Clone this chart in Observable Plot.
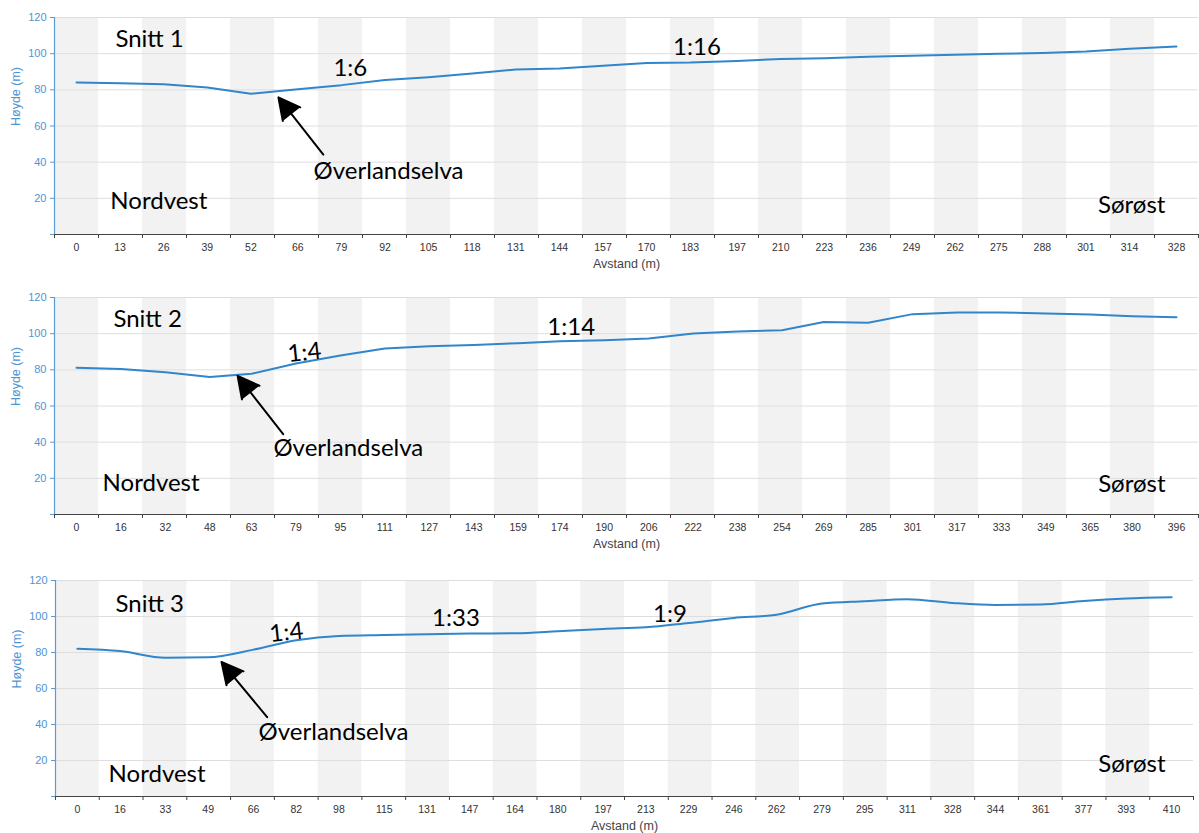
<!DOCTYPE html>
<html><head><meta charset="utf-8">
<script src="https://cdn.jsdelivr.net/npm/d3@7"></script>
<script src="https://cdn.jsdelivr.net/npm/@observablehq/plot@0.6"></script>
<style>
body{margin:0;background:#fff;}
#wrap{width:1199px;}
#wrap svg{display:block;overflow:visible;}
</style>
</head><body><div id="wrap"></div>
<script>
// ---- Snitt 1 ----
const ticks1 = [0,13,26,39,52,66,79,92,105,118,131,144,157,170,183,197,210,223,236,249,262,275,288,301,314,328];
const heights1 = [84.1,83.6,83.1,81.3,77.8,80.3,82.6,85.5,87,89,91.3,91.8,93.3,94.8,95.1,96,97,97.5,98.3,98.8,99.4,99.9,100.4,101.2,102.7,104];
const ann1Text = ["Snitt 1","Nordvest","1:6","1:16","Øverlandselva","Sørøst"];
const ann1X = [11.6,10.1,76.6,177.9,70.7,304.6];
const ann1Y = [108.1,18.3,91.8,103.7,35.1,16.0];
const ann1Rot = [0,0,0,0,0,0];
const arrow1 = [73.6,44.2,60.2,75.8];

// ---- Snitt 2 ----
const ticks2 = [0,16,32,48,63,79,95,111,127,143,159,174,190,206,222,238,254,269,285,301,317,333,349,365,380,396];
const heights2 = [81.1,80.4,78.7,76.1,77.8,83.5,87.9,91.8,93.1,93.8,94.7,95.8,96.4,97.3,100.1,101.2,101.9,106.4,106,110.8,111.7,111.7,111.2,110.6,109.7,109.1];
const ann2Text = ["Snitt 2","Nordvest","1:4","1:14","Øverlandselva","Sørøst"];
const ann2X = [13.3,9.4,76.0,169.5,70.9,367.8];
const ann2Y = [107.7,17.1,88.5,103.6,36.7,16.8];
const ann2Rot = [0,0,-6,0,0,0];
const arrow2 = [74.4,44.4,58.0,76.7];

// ---- Snitt 3 ----
const ticks3 = [0,16,33,49,66,82,98,115,131,147,164,180,197,213,229,246,262,279,295,311,328,344,361,377,393,410];
const heights3 = [82.1,80.8,77.1,77.3,81.6,86.8,89.2,89.7,90.1,90.5,90.7,91.8,93.1,94,96.4,99.2,101,107.2,108.5,109.6,107.5,106.4,106.6,108.6,110,110.7];
const ann3Text = ["Snitt 3","Nordvest","1:4","1:33","1:9","Øverlandselva","Sørøst"];
const ann3X = [14.3,11.7,72.0,132.9,215.7,67.9,382.5];
const ann3Y = [106.8,12.2,90.1,99,101.2,35.6,17.8];
const ann3Rot = [0,0,-6,0,0,0,0];
const arrow3 = [71.1,44.1,54.0,74.7];

const yTicks = [0,20,40,60,80,100,120];
const gridTicks = [20,40,60,80,100,120];
const yLabel = "Høyde (m)";
const xLabel = "Avstand (m)";

const BLUE_AXIS = "#5b9bd5";
const BLUE_TEXT = "#4f93d3";
const LINE = "#2f86cc";

function panel(cfg) {
  const {ticks, heights, annText, annX, annY, annRot, arrow, height, mt, mb, ml, mr, curve} = cfg;
  const n = ticks.length;
  const step = ticks[n - 1] / (n - 1);
  const bounds = ticks.map((t, i) => i * step - step / 2).concat([(n - 1) * step + step / 2]);
  const bands = d3.range(0, n, 2).map(i => [bounds[i], bounds[i + 1]]);
  return Plot.plot({
    width: 1199,
    height,
    marginTop: mt, marginBottom: mb, marginLeft: ml, marginRight: mr,
    style: {fontFamily: "'Liberation Sans', Arial, sans-serif", background: "#fff", overflow: "visible"},
    x: {type: "linear", domain: [bounds[0], bounds[n]]},
    y: {domain: [0, 120]},
    marks: [
      Plot.rect(bands, {x1: d => d[0], x2: d => d[1], fill: "#f2f2f2"}),
      Plot.ruleY(gridTicks, {stroke: "#dedede", strokeWidth: 1}),
      Plot.ruleY([0], {stroke: "#444", strokeWidth: 1}),
      Plot.ruleX([bounds[0]], {stroke: BLUE_AXIS, strokeWidth: 1.2}),
      Plot.axisY(yTicks, {tickSize: 4, tickPadding: 4, fontSize: 11, color: BLUE_TEXT, stroke: BLUE_AXIS, tickFormat: d => d === 0 ? "" : d, label: null}),
      Plot.axisX(bounds, {tickSize: 4, tickFormat: () => "", stroke: "#444", label: null}),
      Plot.axisX(ticks, {tickSize: 0, tickPadding: 9, fontSize: 10.5, color: "#333", label: null}),
      Plot.text([yLabel], {text: d => d, frameAnchor: "left", rotate: -90, dx: -39, fontSize: 12.5, fill: BLUE_TEXT}),
      Plot.text([xLabel], {text: d => d, frameAnchor: "bottom", dy: 33, fontSize: 12.5, fill: "#444"}),
      Plot.line(ticks, {x: d => d, y: heights, stroke: LINE, strokeWidth: 2, curve}),
      Plot.arrow([arrow], {x1: d => d[0], y1: d => d[1], x2: d => d[2], y2: d => d[3], stroke: "#000", fill: "#000", strokeWidth: 2, headLength: 18, headAngle: 55}),
      Plot.text(annText, {x: annX, y: annY, rotate: annRot, text: d => d, textAnchor: "start", lineAnchor: "middle", fontFamily: "Lato, 'Open Sans', sans-serif", fontSize: 24, fill: "#000"})
    ]
  });
}

const wrap = document.getElementById("wrap");
wrap.appendChild(panel({ticks: ticks1, heights: heights1, annText: ann1Text, annX: ann1X, annY: ann1Y, annRot: ann1Rot, arrow: arrow1, height: 280, mt: 17, mb: 46, ml: 54, mr: 1, curve: "linear"}));
wrap.appendChild(panel({ticks: ticks2, heights: heights2, annText: ann2Text, annX: ann2X, annY: ann2Y, annRot: ann2Rot, arrow: arrow2, height: 283, mt: 17, mb: 49, ml: 54, mr: 1, curve: "linear"}));
wrap.appendChild(panel({ticks: ticks3, heights: heights3, annText: ann3Text, annX: ann3X, annY: ann3Y, annRot: ann3Rot, arrow: arrow3, height: 270, mt: 17, mb: 37, ml: 55, mr: 6, curve: "monotone-x"}));
</script>
</body></html>
